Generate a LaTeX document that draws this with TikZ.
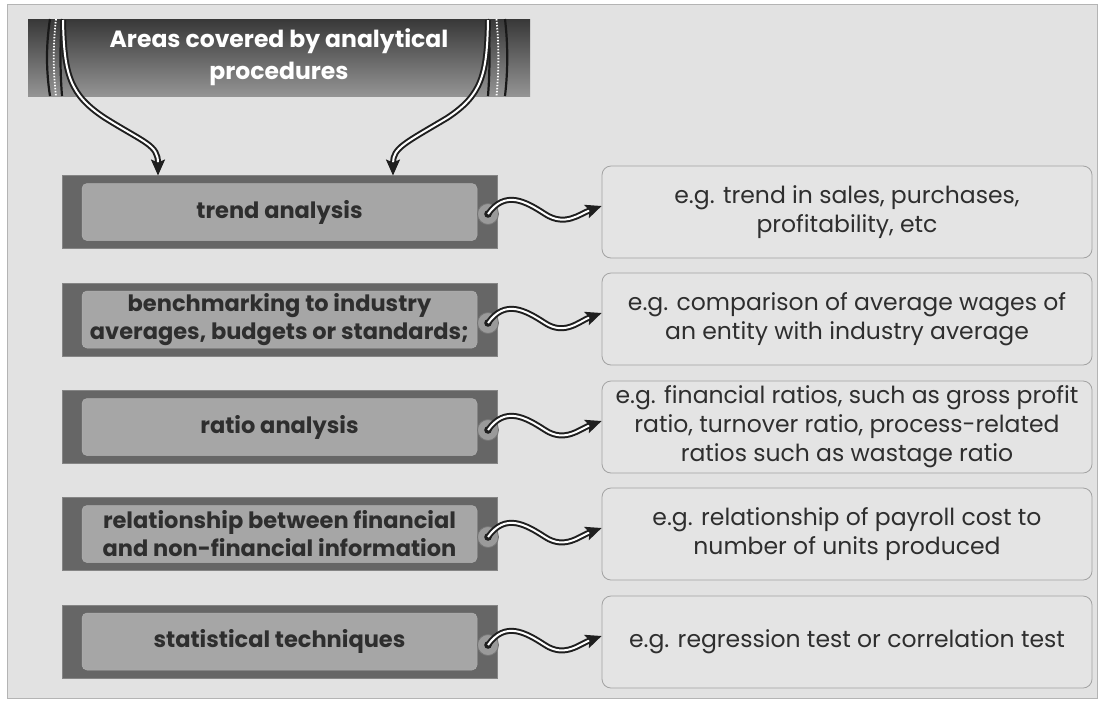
\documentclass[tikz,border=0pt]{standalone}
\usepackage{fontspec}
\setmainfont{Poppins}
\usetikzlibrary{arrows.meta}
\definecolor{bgc}{HTML}{E2E2E2}
\definecolor{framec}{HTML}{B4B4B4}
\definecolor{darkbox}{HTML}{666666}
\definecolor{lightbox}{HTML}{A6A6A6}
\definecolor{txt}{HTML}{2E2E2E}
\definecolor{rbox}{HTML}{E4E4E4}
\definecolor{rborder}{HTML}{A2A2A2}
\definecolor{circ}{HTML}{9A9A9A}
\tikzset{
  outerbox/.style={draw=darkbox!80!white, line width=0.6pt, fill=darkbox, minimum width=435pt, minimum height=73pt, inner sep=0pt},
  innerbox/.style={draw=lightbox!90!white, line width=0.5pt, fill=lightbox, rounded corners=5pt, minimum width=395pt, minimum height=57pt, inner sep=0pt, align=center, text=txt, font=\bfseries\fontsize{22.5}{28}\selectfont},
  rightbox/.style={draw=rborder, line width=0.8pt, fill=rbox, rounded corners=9pt, minimum width=490pt, minimum height=92pt, inner sep=0pt, align=center, text=txt, font=\fontsize{23.5}{29}\selectfont},
  ring/.style={circle, draw=darkbox!90!white, line width=0.8pt, fill=circ, minimum size=21pt, inner sep=0pt},
  dbl/.style={draw=black!88, line width=2pt, double=white, double distance=2pt, -{Stealth[length=16pt,width=14pt,inset=3pt]}},
  header/.style={minimum width=502pt, minimum height=77pt, inner sep=0pt, top color=black!78, bottom color=black!42, align=center, text=white, font=\bfseries\fontsize{23.5}{32}\selectfont},
  deco/.style={draw=black!90, line width=2.2pt},
  decodot/.style={draw=white, line width=1.8pt, dash pattern=on 1.5pt off 1.5pt},
}
\begin{document}
\begin{tikzpicture}[x=1pt,y=-1pt]
\useasboundingbox (0,0) rectangle (1100,702);
\fill[white] (0,0) rectangle (1100,702);
\draw[fill=bgc, draw=framec, line width=1pt] (7,4) rectangle (1097,698);

% header
\node[header] (h) at (279,57.5) {Areas covered by analytical\\procedures};
\draw[deco] (50,19) .. controls (46,45) and (46,70) .. (50,96);
\draw[decodot] (56,19) .. controls (53,45) and (53,70) .. (56,96);
\draw[deco] (62,19) .. controls (60,45) and (60,70) .. (62,96);
\draw[deco] (505,19) .. controls (508,45) and (508,70) .. (505,96);
\draw[decodot] (496.5,19) .. controls (499,45) and (499,70) .. (496.5,96);
\draw[deco] (488,19) .. controls (490,45) and (490,70) .. (488,96);

% left boxes
\node[outerbox] (lb1) at (279.5,212) {};
\node[innerbox] (li1) at (279.5,212) {trend analysis};
\node[outerbox] (lb2) at (279.5,319.5) {};
\node[innerbox] (li2) at (279.5,319.5) {benchmarking to industry\\averages, budgets or standards;};
\node[outerbox] (lb3) at (279.5,427) {};
\node[innerbox] (li3) at (279.5,427) {ratio analysis};
\node[outerbox] (lb4) at (279.5,534) {};
\node[innerbox] (li4) at (279.5,534) {relationship between financial\\and non-financial information};
\node[outerbox] (lb5) at (279.5,641.5) {};
\node[innerbox] (li5) at (279.5,641.5) {statistical techniques};

% right boxes
\node[rightbox] (r1) at (847,212) {e.g. trend in sales, purchases,\\profitability, etc};
\node[rightbox] (r2) at (847,319) {e.g. comparison of average wages of\\an entity with industry average};
\node[rightbox] (r3) at (847,427) {e.g. financial ratios, such as gross profit\\ratio, turnover ratio, process-related\\ratios such as wastage ratio};
\node[rightbox] (r4) at (847,534) {e.g. relationship of payroll cost to\\number of units produced};
\node[rightbox] (r5) at (847,642) {e.g. regression test or correlation test};

% header arrows
\coordinate (s1) at (63,20);
\coordinate (t1) at (158,175.5);
\coordinate (s2) at (488,20);
\coordinate (t2) at (393,175.5);
\draw[dbl] (s1) .. controls (64,75) and (70,95) .. (105,118) .. controls (145,143) and (158,145) .. (t1);
\draw[dbl] (s2) .. controls (487,75) and (482,95) .. (447,118) .. controls (405,143) and (393,148) .. (t2);

% rings and wave connectors
\foreach \i/\y in {1/214,2/323,3/430,4/537,5/645}{
  \node[ring] (c\i) at (488,\y) {};
  \fill[black!88] (c\i.center) circle (3.8pt);
  \draw[dbl] (c\i.center) .. controls +(17,-24) and +(-20,-13) .. ++(57,0) .. controls +(20,13) and +(-22,8) .. ([yshift=6pt]r\i.west);
}
\end{tikzpicture}
\end{document}
